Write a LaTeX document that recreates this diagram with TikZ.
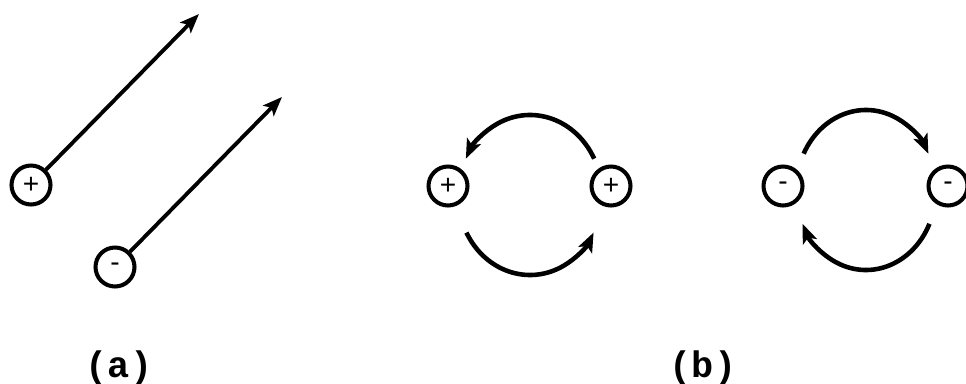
\documentclass[tikz,border=0pt]{standalone}
\usepackage{fontspec}
\setsansfont{Liberation Sans}
\setmonofont{Liberation Mono}
\usepackage{tikz}
\usetikzlibrary{arrows.meta}

\begin{document}
\begin{tikzpicture}[x=0.02cm, y=0.02cm, >={Stealth[length=11pt,width=8.5pt,inset=2.5pt]},
    charge/.style={circle, draw, line width=2.3pt, minimum size=0.78cm, inner sep=0pt,
        font=\sffamily\fontsize{16}{16}\selectfont},
    field/.style={->, line width=2.2pt},
    curl/.style={->, line width=2.6pt},
    caption/.style={font=\ttfamily\bfseries\fontsize{21}{21}\selectfont, anchor=base}]

    \useasboundingbox (0,0) rectangle (966,383);

    % (a) single charges with straight lines
    \node[charge] at (31,198) (pa) {+};
    \node[charge] at (115,116) (ma) {-};
    \coordinate (ta) at (199,369);
    \coordinate (tb) at (282,286);
    \draw[field] (pa) -- (ta);
    \draw[field] (ma) -- (tb);
    \node[caption] at (119,6) (la) {(a)};

    % (b) two positive charges
    \node[charge] at (448,197) (p1) {+};
    \node[charge] at (611,197) (p2) {+};
    \coordinate (cp) at (530,188);
    \draw[curl] ([shift={(27:72 and 80)}]cp) arc[start angle=27, end angle=153, x radius=72, y radius=80];
    \draw[curl] ([shift={(208:72 and 80)}]cp) arc[start angle=208, end angle=332, x radius=72, y radius=80];

    % (b) two negative charges
    \node[charge] at (783,197) (m1) {-};
    \node[charge] at (948,197) (m2) {-};
    \coordinate (cm) at (866,193);
    \draw[curl] ([shift={(153:70 and 80)}]cm) arc[start angle=153, end angle=27, x radius=70, y radius=80];
    \draw[curl] ([shift={(-25:70 and 80)}]cm) arc[start angle=-25, end angle=-155, x radius=70, y radius=80];
    \node[caption] at (703,6) (lb) {(b)};

\end{tikzpicture}
\end{document}
